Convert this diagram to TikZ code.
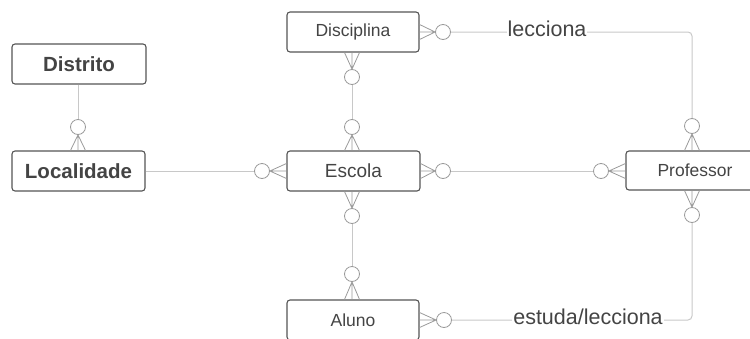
\documentclass[tikz,border=0pt]{standalone}
\usepackage{fontspec}
\setmainfont{Liberation Sans}
\usetikzlibrary{calc}
\definecolor{boxline}{HTML}{555555}
\definecolor{txt}{HTML}{444444}
\definecolor{linkline}{HTML}{C8C8C8}
\definecolor{ringline}{HTML}{9A9A9A}
\tikzset{
  entity/.style={draw=boxline, line width=1.1pt, rounded corners=3pt, fill=white,
    text=txt, inner sep=0pt, minimum height=40pt},
  weak/.style={entity, font=\fontsize{17.5}{20}\selectfont},
  strong/.style={entity, font=\fontsize{20.5}{23}\selectfont\bfseries},
  conn/.style={draw=linkline, line width=1pt},
  foot/.style={draw=ringline, line width=0.8pt},
  ring/.style={circle, draw=ringline, line width=0.8pt, fill=white, minimum size=15pt, inner sep=0pt},
  rel/.style={fill=white, text=txt, inner sep=1pt, font=\fontsize{21.5}{24}\selectfont}
}
% three-pronged foot from a ring anchor to a box edge, spread by (#3,#4)
\newcommand\crowfoot[4]{%
  \draw[foot] (#1) -- (#2) (#1) -- ($(#2)+(#3,#4)$) (#1) -- ($(#2)-(#3,#4)$);}
\begin{document}
\begin{tikzpicture}[x=1pt, y=-1pt]
\useasboundingbox (0,0) rectangle (750,338);
\clip (0,0) rectangle (750,338);

% entities
\node[strong, minimum width=134pt] (dist) at (79,64) {Distrito};
\node[strong, minimum width=133pt] (loc) at (78.5,171) {Localidade};
\node[weak, minimum width=132pt] (disc) at (353,32) {Disciplina};
\node[weak, minimum width=133pt, font=\fontsize{19}{22}\selectfont] (esc) at (353.5,171) {Escola};
\node[weak, minimum width=138pt, minimum height=39pt] (prof) at (695,170.5) {Professor};
\node[weak, minimum width=132pt] (alu) at (353,320) {Aluno};

% rings
\node[ring] (rLoc) at (78,127) {};
\node[ring] (rDiscR) at (443,32) {};
\node[ring] (rDiscB) at (352,77) {};
\node[ring] (rEscT) at (352,127) {};
\node[ring] (rEscL) at (262,171) {};
\node[ring] (rEscR) at (443,171) {};
\node[ring] (rEscB) at (352,216) {};
\node[ring] (rProfL) at (601,171) {};
\node[ring] (rProfT) at (692,126) {};
\node[ring] (rProfB) at (692,215) {};
\node[ring] (rAluT) at (352,274) {};
\node[ring] (rAluR) at (444,320) {};

% links between rings and boxes
\draw[conn] (dist.south -| rLoc) -- (rLoc.north);
\draw[conn] (loc.east |- rEscL) -- (rEscL.west);
\draw[conn] (rDiscB.south) -- (rEscT.north);
\draw[conn] (rEscR.east) -- (rProfL.west);
\draw[conn] (rEscB.south) -- (rAluT.north);
\draw[conn, rounded corners=4pt] (rDiscR.east) -| (rProfT.north);
\draw[conn, rounded corners=4pt] (rAluR.east) -| (rProfB.south);

% relationship labels
\node[rel] (lec) at (547,29) {lecciona};
\node[rel] (est) at (588,317) {estuda/lecciona};

% crow's feet
\crowfoot{rLoc.south}{loc.north -| rLoc}{7.5}{0}
\crowfoot{rDiscR.west}{disc.east}{0}{7.5}
\crowfoot{rDiscB.north}{disc.south -| rDiscB}{7.5}{0}
\crowfoot{rEscT.south}{esc.north -| rEscT}{7.5}{0}
\crowfoot{rEscL.east}{esc.west |- rEscL}{0}{7.5}
\crowfoot{rEscR.west}{esc.east |- rEscR}{0}{7.5}
\crowfoot{rEscB.north}{esc.south -| rEscB}{7.5}{0}
\crowfoot{rProfL.east}{prof.west |- rProfL}{0}{7.5}
\crowfoot{rProfT.south}{prof.north -| rProfT}{7.5}{0}
\crowfoot{rProfB.north}{prof.south -| rProfB}{7.5}{0}
\crowfoot{rAluT.south}{alu.north -| rAluT}{7.5}{0}
\crowfoot{rAluR.west}{alu.east |- rAluR}{0}{7.5}
\end{tikzpicture}
\end{document}
